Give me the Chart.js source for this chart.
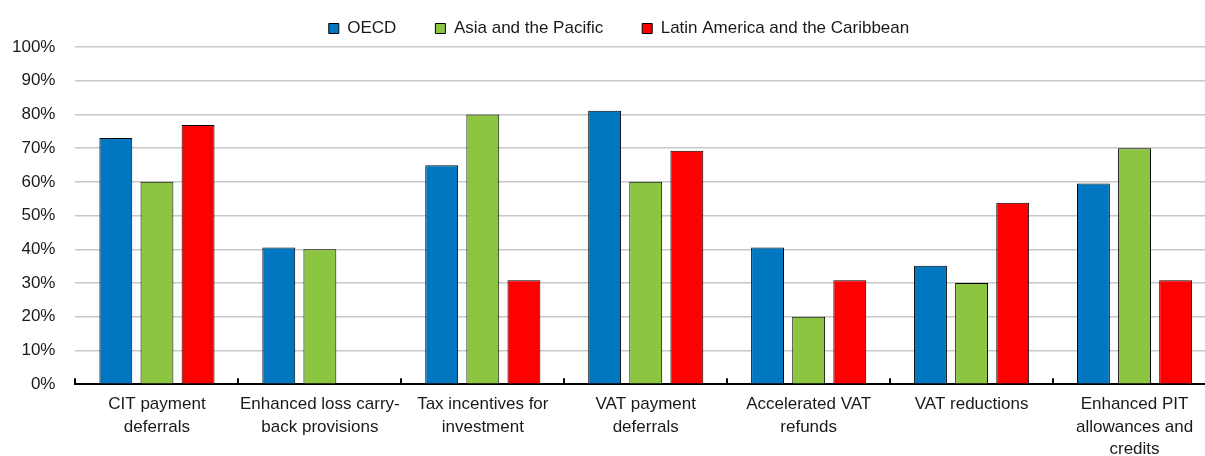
<!DOCTYPE html>
<html>
<head>
<meta charset="utf-8">
<script src="https://cdn.jsdelivr.net/npm/chart.js@4"></script>
<style>
  html, body { margin: 0; padding: 0; background: #fff; overflow: hidden; }
  #wrap { width: 1216px; height: 456px; position: relative; }
</style>
</head>
<body>
<div id="wrap"><canvas id="graph"></canvas></div>
<script>
const categories = [
    ['CIT payment', 'deferrals'],
    ['Enhanced loss carry-', 'back provisions'],
    ['Tax incentives for', 'investment'],
    ['VAT payment', 'deferrals'],
    ['Accelerated VAT', 'refunds'],
    ['VAT reductions'],
    ['Enhanced PIT', 'allowances and', 'credits']
];
const oecd = [73.0, 40.5, 64.9, 81.1, 40.5, 35.1, 59.5];
const asiaPacific = [60, 40, 80, 60, 20, 30, 70];
const latinAmerica = [76.9, null, 30.8, 69.2, 30.8, 53.8, 30.8];
const yTicks = [0, 10, 20, 30, 40, 50, 60, 70, 80, 90, 100];

// small tick marks pointing up from the x axis, between categories
const innerTicks = {
    id: 'innerTicks',
    afterDraw(chart) {
        const x = chart.scales.x;
        const c = chart.ctx;
        const bottom = chart.chartArea.bottom;
        c.save();
        c.strokeStyle = '#000';
        c.lineWidth = 2;
        for (let i = 0; i <= categories.length; i++) {
            const px = Math.round(x.getPixelForValue(i - 0.5));
            c.beginPath();
            c.moveTo(px, bottom - 6);
            c.lineTo(px, bottom);
            c.stroke();
        }
        c.restore();
    }
};

// nudge the legend a bit to the right, like the original
const legendShift = {
    id: 'legendShift',
    afterLayout(chart) {
        chart.legend.left += 15;
        chart.legend.right += 15;
    }
};

Chart.defaults.font.family = '"Liberation Sans", Arial, sans-serif';
Chart.defaults.font.size = 17;
Chart.defaults.color = '#1a1a1a';

const ctx = document.getElementById('graph').getContext('2d');
const taxChart = new Chart(ctx, {
    type: 'bar',
    data: {
        labels: categories,
        datasets: [{
            label: 'OECD',
            data: oecd,
            backgroundColor: '#0077c0',
            borderColor: '#000',
            borderWidth: 1
        }, {
            label: 'Asia and the Pacific',
            data: asiaPacific,
            backgroundColor: '#8cc641',
            borderColor: '#000',
            borderWidth: 1
        }, {
            label: 'Latin America and the Caribbean',
            data: latinAmerica,
            backgroundColor: '#ff0000',
            borderColor: '#000',
            borderWidth: 1
        }]
    },
    options: {
        responsive: true,
        maintainAspectRatio: false,
        animation: false,
        categoryPercentage: 0.757,
        barPercentage: 0.8,
        layout: {
            padding: { top: -19, left: -8, right: 0, bottom: -14 }
        },
        scales: {
            x: {
                grid: { display: false, drawTicks: false },
                border: { display: true, color: '#000', width: 2 },
                ticks: {
                    padding: 9,
                    maxRotation: 0,
                    autoSkip: false,
                    font: { size: 17, lineHeight: 1.33 }
                }
            },
            y: {
                min: 0,
                max: 100,
                afterBuildTicks(axis) {
                    axis.ticks = yTicks.map(v => ({ value: v }));
                },
                grid: { color: '#c8c8c8', lineWidth: 1.5, drawTicks: false },
                border: { display: false },
                ticks: {
                    padding: 20,
                    callback: v => v + '%'
                }
            }
        },
        plugins: {
            legend: {
                position: 'top',
                labels: {
                    boxWidth: 10,
                    boxHeight: 10,
                    padding: 39,
                    font: { size: 17 }
                }
            },
            tooltip: { enabled: false }
        }
    },
    plugins: [innerTicks, legendShift]
});
</script>
</body>
</html>
